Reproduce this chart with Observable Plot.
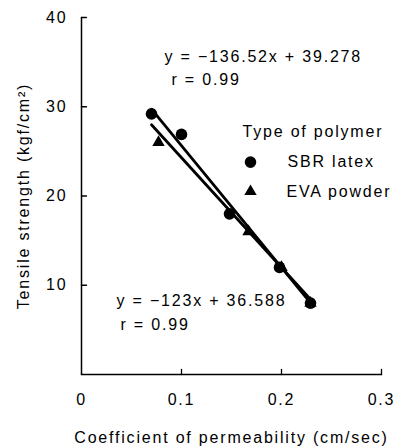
<!DOCTYPE html>
<html>
<head>
<meta charset="utf-8">
<script src="https://cdn.jsdelivr.net/npm/d3@7"></script>
<script src="https://cdn.jsdelivr.net/npm/@observablehq/plot@0.6"></script>
<style>
  html, body { margin: 0; padding: 0; background: #fff; }
  svg { font-family: "Liberation Sans", Arial, sans-serif; letter-spacing: 1.8px; }
</style>
</head>
<body>
<div id="chart"></div>
<script>
const xTicks = [0, 0.1, 0.2, 0.3];
const yTicks = [10, 20, 30, 40];

const sbrX = [0.07, 0.1, 0.148, 0.198, 0.229];
const sbrY = [29.2, 26.9, 18.0, 12.0, 8.0];
const evaX = [0.077, 0.167, 0.2, 0.229];
const evaY = [26.0, 16.0, 12.0, 8.0];

const sbrFit = {slope: -136.52, intercept: 39.278, label: "y = \u2212136.52x + 39.278", r: "r = 0.99"};
const evaFit = {slope: -123, intercept: 36.588, label: "y = \u2212123x + 36.588", r: "r = 0.99"};
const fitRange = [0.07, 0.23];

const legendTitle = "Type of polymer";
const seriesNames = ["SBR latex", "EVA powder"];

const sbr = sbrX.map((x, i) => ({x, y: sbrY[i]}));
const eva = evaX.map((x, i) => ({x, y: evaY[i]}));
const fitLine = f => fitRange.map(x => ({x, y: f.slope * x + f.intercept}));

const annotations = [
  {x: 0.083, y: 35.6, text: sbrFit.label},
  {x: 0.090, y: 33.0, text: sbrFit.r},
  {x: 0.035, y: 8.2, text: evaFit.label},
  {x: 0.039, y: 5.6, text: evaFit.r},
  {x: 0.161, y: 27.2, text: legendTitle},
  {x: 0.206, y: 23.8, text: seriesNames[0]},
  {x: 0.205, y: 20.5, text: seriesNames[1]}
];
const legendSymbols = [
  {x: 0.169, y: 23.8, symbol: "circle", r: 5.8},
  {x: 0.169, y: 20.5, symbol: "triangle", r: 4.6}
];

const W = 401, H = 446, mL = 81, mR = 20, mT = 17, mB = 72;
const xDom = [0, 0.3], yDom = [0, 40];
const tickPx = 5;
const xTickLen = tickPx * (yDom[1] - yDom[0]) / (H - mT - mB);
const yTickLen = tickPx * (xDom[1] - xDom[0]) / (W - mL - mR);

// axis lines (as polylines) and inward ticks
const yAxisLine = [{x: xDom[0], y: yDom[0]}, {x: xDom[0], y: yDom[1]}];
const xAxisLine = [{x: xDom[0], y: yDom[0]}, {x: xDom[1], y: yDom[0]}];
const tickSegs = [
  ...xTicks.filter(d => d > xDom[0]).flatMap((d, i) => [{x: d, y: yDom[0], k: "x" + i}, {x: d, y: yDom[0] + xTickLen, k: "x" + i}]),
  ...yTicks.flatMap((d, i) => [{x: xDom[0], y: d, k: "y" + i}, {x: xDom[0] + yTickLen, y: d, k: "y" + i}])
];

const chart = Plot.plot({
  width: W,
  height: H,
  marginLeft: mL,
  marginRight: mR,
  marginTop: mT,
  marginBottom: mB,
  style: {fontSize: "16px", color: "#000", background: "#fff"},
  x: {domain: xDom},
  y: {domain: yDom},
  r: {type: "identity"},
  marks: [
    Plot.line(yAxisLine, {x: "x", y: "y", stroke: "#000", strokeWidth: 1.5}),
    Plot.line(xAxisLine, {x: "x", y: "y", stroke: "#000", strokeWidth: 1.5}),
    Plot.line(tickSegs, {x: "x", y: "y", z: "k", stroke: "#000", strokeWidth: 1.3}),
    // tick labels and titles
    Plot.axisX({ticks: xTicks, tickSize: 0, tickPadding: 19, tickFormat: d => String(d),
      label: "Coefficient of permeability (cm/sec)", labelAnchor: "center", labelArrow: "none", labelOffset: 68}),
    Plot.axisY({ticks: yTicks, tickSize: 0, tickPadding: 14, tickFormat: d => String(d),
      label: "Tensile strength (kgf/cm\u00b2)", labelAnchor: "center", labelArrow: "none", labelOffset: 64}),
    Plot.line(fitLine(sbrFit), {x: "x", y: "y", stroke: "#000", strokeWidth: 2.8}),
    Plot.line(fitLine(evaFit), {x: "x", y: "y", stroke: "#000", strokeWidth: 2.8}),
    Plot.dot(sbr, {x: "x", y: "y", r: 5.8, fill: "#000", symbol: "circle"}),
    Plot.dot(eva, {x: "x", y: "y", r: 4.6, fill: "#000", symbol: "triangle"}),
    Plot.dot(legendSymbols, {x: "x", y: "y", symbol: "symbol", r: "r", fill: "#000"}),
    Plot.text(annotations, {x: "x", y: "y", text: "text", textAnchor: "start", fill: "#000", fontSize: 16})
  ]
});
document.getElementById("chart").appendChild(chart);
</script>
</body>
</html>
